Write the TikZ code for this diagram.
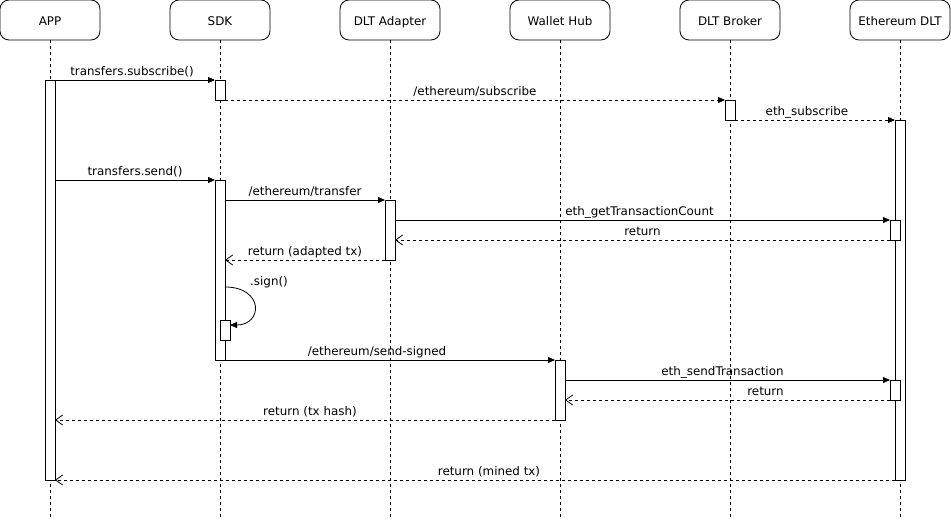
\documentclass[tikz,border=0pt]{standalone}
\usepackage{fontspec}
\setmainfont{DejaVu Sans}
\usepackage{tikz}
\usetikzlibrary{arrows.meta,positioning,calc}

\begin{document}
\begin{tikzpicture}[
    x=1pt, y=-1pt,
    font=\fontsize{11.9}{14}\selectfont,
    actor/.style={draw, rounded corners=9pt, minimum width=100pt, minimum height=40pt,
      inner sep=0pt, outer sep=0pt, line width=0.8pt, text height=12pt, text depth=0pt},
    lifeline/.style={dash pattern=on 3pt off 3pt, line width=0.8pt},
    act/.style={draw, fill=white, minimum width=10pt, inner sep=0pt, outer sep=0pt, line width=0.8pt},
    call/.style={-{Triangle[length=7pt,width=6pt]}, line width=0.8pt},
    async/.style={call, dash pattern=on 3pt off 3pt},
    reply/.style={-{Straight Barb[length=7pt,width=10pt]}, dash pattern=on 3pt off 3pt, line width=0.8pt},
    lbl/.style={above, inner sep=1.5pt, text height=9pt, text depth=2.5pt},
  ]
  \useasboundingbox (0,0) rectangle (951,521);

  % participants
  \node[actor] (app) at (50,20) {APP};
  \node[actor, right=70pt of app] (sdk) {SDK};
  \node[actor, right=70pt of sdk] (adapter) {DLT Adapter};
  \node[actor, right=70pt of adapter] (hub) {Wallet Hub};
  \node[actor, right=70pt of hub] (broker) {DLT Broker};
  \node[actor, right=70pt of broker] (eth) {Ethereum DLT};
  \foreach \p in {app,sdk,adapter,hub,broker,eth}
    \draw[lifeline] (\p.south) -- ++(0,477);

  % activations
  \node[act, minimum height=400pt] (appA) at (50,280) {};
  \node[act, minimum height=20pt] (sdkA) at (220,90) {};
  \node[act, minimum height=20pt] (brokerA) at (730,110) {};
  \node[act, minimum height=360pt] (ethA) at (900,300) {};
  \node[act, minimum height=180pt] (sdkB) at (220,270) {};
  \node[act, minimum height=60pt] (adapterA) at (390,230) {};
  \node[act, minimum height=20pt] (ethB) at (895,230) {};
  \node[act, minimum height=20pt] (sdkC) at (225,330) {};
  \node[act, minimum height=60pt] (hubA) at (560,390) {};
  \node[act, minimum height=20pt] (ethC) at (895,390) {};

  % messages
  \draw[call] (appA.north east) -- node[lbl, xshift=-3pt] {transfers.subscribe()} (sdkA.north west);
  \draw[async] (sdkA.south east) -- node[lbl] {/ethereum/subscribe} (brokerA.north west);
  \draw[async] (brokerA.south east) -- node[lbl, xshift=-8pt] {eth\_subscribe} (ethA.north west);
  \draw[call] (appA.east |- sdkB.north) -- node[lbl] {transfers.send()} (sdkB.north west);
  \draw[call] (sdkB.east |- adapterA.north) -- node[lbl] {/ethereum/transfer} (adapterA.north west);
  \draw[call] (adapterA.east |- ethB.north) -- node[lbl, xshift=-3pt] {eth\_getTransactionCount} (ethB.north west);
  \draw[reply] (ethB.south west) -- node[lbl] {return} (adapterA.east |- ethB.south);
  \draw[reply] (adapterA.south west) -- node[lbl] {return (adapted tx)} (sdkB.east |- adapterA.south);
  \coordinate (signOut) at (225,287);
  \draw[call] (signOut) .. controls (264,287) and (263,325) .. ([yshift=-5pt]sdkC.north east);
  \node[right, inner sep=0pt] (signLbl) at (250,282) {.sign()};
  \draw[call] (sdkB.south east) -- node[lbl, xshift=-13pt] {/ethereum/send-signed} (hubA.north west);
  \draw[call] (hubA.east |- ethC.north) -- node[lbl, xshift=-5pt] {eth\_sendTransaction} (ethC.north west);
  \draw[reply] (ethC.south west) -- node[lbl, xshift=38pt] {return} (hubA.east |- ethC.south);
  \draw[reply] (hubA.south west) -- node[lbl, xshift=5pt] {return (tx hash)} (appA.east |- hubA.south);
  \draw[reply] (ethA.south west) -- node[lbl, xshift=14pt] {return (mined tx)} (appA.south east);
\end{tikzpicture}
\end{document}
